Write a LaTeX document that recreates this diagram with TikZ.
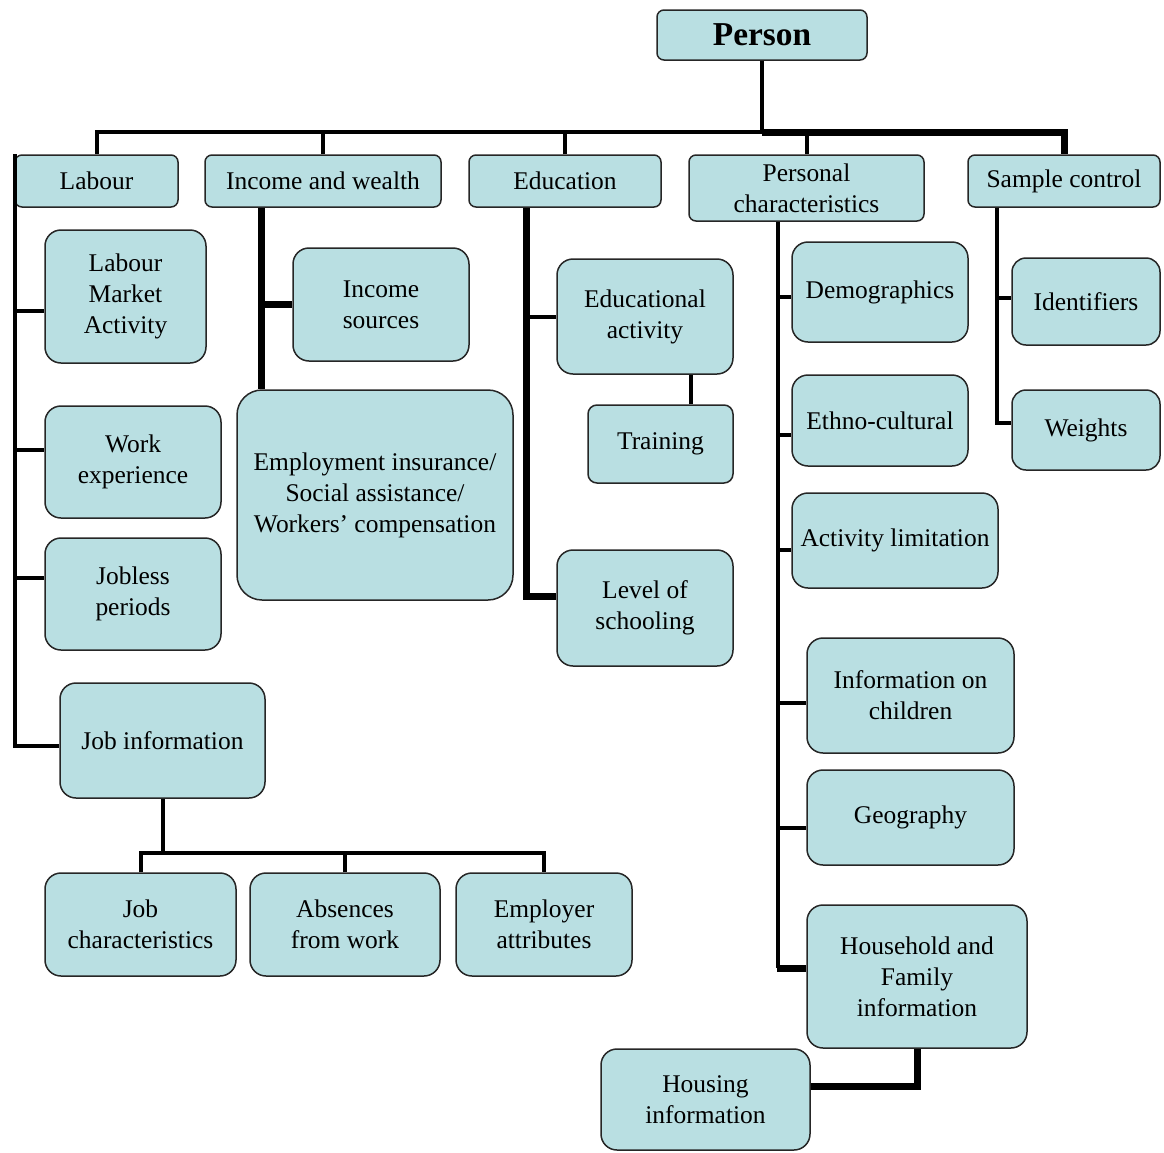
\documentclass[tikz,border=0pt]{standalone}
\usepackage{fontspec}
\setmainfont{Liberation Serif}
\definecolor{boxfill}{RGB}{185,223,226}
\tikzset{
  bx/.style={draw=black!85, line width=0.03cm, fill=boxfill, rounded corners=0.32cm,
    align=center, inner sep=0pt, font=\fontsize{14.5}{17.6}\selectfont},
  hd/.style={rounded corners=0.14cm},
  conn/.style={line width=0.08cm},
  thk/.style={line width=0.14cm},
}
\newcommand{\mybox}[7][]{\node[bx,#1,minimum width={(#4-#2)*0.02cm},minimum height={(#5-#3)*0.02cm}] (#6) at ({(#2+#4)/2},{(#3+#5)/2}) {#7};}
\begin{document}
\begin{tikzpicture}[x=0.02cm,y=-0.02cm]
\useasboundingbox (0,0) rectangle (1164,1153);
% top
\mybox[hd,font=\fontsize{19}{22}\selectfont\bfseries]{657}{10}{867}{60}{person}{Person}
\mybox[hd]{15}{155}{178}{207}{labour}{Labour}
\mybox[hd]{205}{155}{441}{207}{income}{Income and wealth}
\mybox[hd]{469}{155}{661}{207}{educ}{Education}
\mybox[hd]{689}{155}{924}{221}{personal}{Personal\\characteristics}
\mybox[hd]{968}{155}{1160}{207}{sample}{Sample control}
% labour
\mybox{45}{230}{206}{363}{lma}{Labour\\Market\\Activity}
\mybox{45}{406}{221}{518}{work}{Work\\experience}
\mybox{45}{538}{221}{650}{jobless}{Jobless\\periods}
\mybox{60}{683}{265}{798}{jobinfo}{Job information}
\mybox{45}{873}{236}{976}{jobchar}{Job\\characteristics}
\mybox{250}{873}{440}{976}{absences}{Absences\\from work}
\mybox{456}{873}{632}{976}{employer}{Employer\\attributes}
% income
\mybox{293}{248}{469}{361}{incsrc}{Income\\sources}
\mybox[rounded corners=0.5cm]{237}{390}{513}{600}{ei}{Employment insurance/\\Social assistance/\\Workers’ compensation}
% education
\mybox{557}{259}{733}{374}{edact}{Educational\\activity}
\mybox[rounded corners=0.18cm]{588}{405}{733}{483}{training}{Training}
\mybox{557}{550}{733}{666}{school}{Level of\\schooling}
% personal
\mybox{792}{242}{968}{342}{demo}{Demographics}
\mybox{792}{375}{968}{466}{ethno}{Ethno-cultural}
\mybox{792}{493}{998}{588}{actlim}{Activity limitation}
\mybox{807}{638}{1014}{753}{children}{Information on\\children}
\mybox{807}{770}{1014}{865}{geo}{Geography}
\mybox{807}{905}{1027}{1048}{household}{Household and\\Family\\information}
\mybox{601}{1049}{810}{1150}{housing}{Housing\\information}
% sample
\mybox[rounded corners=0.28cm]{1012}{258}{1160}{345}{ident}{Identifiers}
\mybox[rounded corners=0.28cm]{1012}{390}{1160}{470}{weights}{Weights}

% ---- connectors ----
\coordinate (busy) at (0,132);
\coordinate (hub) at (person.south |- busy);
\draw[conn] (person.south) -- (hub);
\draw[conn] (labour.north) |- (hub);
\draw[thk] (hub) -| (sample.north);
\draw[conn] (income.north) -- (income.north |- busy);
\draw[conn] (educ.north) -- (educ.north |- busy);
\draw[conn] (personal.north) -- (personal.north |- busy);

% labour
\coordinate (lt) at ([xshift=0.02cm]labour.north west);
\coordinate (lmaB) at ([yshift=-0.29cm]lma.west);
\coordinate (workB) at ([yshift=0.24cm]work.west);
\coordinate (joblessB) at ([yshift=0.32cm]jobless.west);
\coordinate (jobinfoB) at ([yshift=-0.11cm]jobinfo.west);
\draw[conn] (lt) |- (jobinfoB);
\draw[conn] (lt |- lmaB) -- (lmaB);
\draw[conn] (lt |- workB) -- (workB);
\draw[conn] (lt |- joblessB) -- (joblessB);

% job information
\coordinate (jbar) at ([yshift=-1.08cm]jobinfo.south);
\draw[conn] (jobinfo.south) -- (jbar);
\draw[conn] (jobchar.north) |- (employer.north |- jbar) -- (employer.north);
\draw[conn] (absences.north) -- (absences.north |- jbar);

% income
\coordinate (it) at ([xshift=1.14cm]income.south west);
\draw[thk] (it) -- (it |- ei.north);
\draw[thk] (it |- incsrc.west) -- (incsrc.west);

% education
\coordinate (et) at ([xshift=1.16cm]educ.south west);
\coordinate (schoolB) at ([yshift=0.24cm]school.west);
\draw[thk] (et) |- (schoolB);
\draw[conn] (et |- edact.west) -- (edact.west);
\coordinate (tr) at ([xshift=-0.86cm]training.north east);
\draw[conn] (tr) -- (tr |- edact.south);

% personal
\coordinate (pt) at ([xshift=1.8cm]personal.south west);
\coordinate (demoB) at ([yshift=-0.1cm]demo.west);
\coordinate (ethnoB) at ([yshift=-0.29cm]ethno.west);
\coordinate (actlimB) at ([yshift=-0.19cm]actlim.west);
\coordinate (childrenB) at ([yshift=-0.15cm]children.west);
\coordinate (geoB) at ([yshift=-0.21cm]geo.west);
\coordinate (householdB) at ([yshift=0.17cm]household.west);
\draw[conn] (pt) -- (pt |- householdB);
\draw[conn] (pt |- demoB) -- (demoB);
\draw[conn] (pt |- ethnoB) -- (ethnoB);
\draw[conn] (pt |- actlimB) -- (actlimB);
\draw[conn] (pt |- childrenB) -- (childrenB);
\draw[conn] (pt |- geoB) -- (geoB);
\draw[thk] ([xshift=-0.03cm]pt |- householdB) -- (householdB);
\coordinate (hb) at ([yshift=0.27cm]housing.east);
\draw[thk] (household.south) |- (hb);

% sample
\coordinate (st) at ([xshift=0.6cm]sample.south west);
\coordinate (identB) at ([yshift=0.07cm]ident.west);
\coordinate (weightsB) at ([yshift=0.14cm]weights.west);
\draw[conn] (st) |- (weightsB);
\draw[conn] (st |- identB) -- (identB);
\end{tikzpicture}
\end{document}
